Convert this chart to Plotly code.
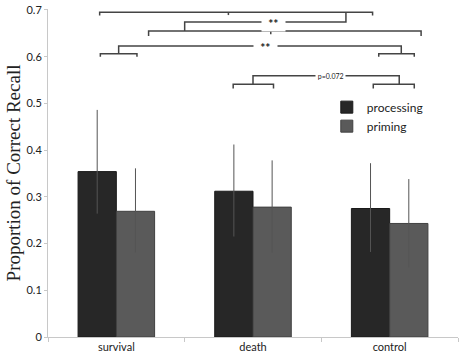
import plotly.graph_objects as go

categories = ["survival", "death", "control"]
processing = [0.354, 0.312, 0.275]
priming = [0.269, 0.278, 0.243]
processing_err_plus = [0.132, 0.100, 0.097]
processing_err_minus = [0.090, 0.097, 0.093]
priming_err_plus = [0.092, 0.100, 0.095]
priming_err_minus = [0.088, 0.098, 0.094]
y_ticks = [0, 0.1, 0.2, 0.3, 0.4, 0.5, 0.6, 0.7]
y_ticklabels = ["0", "0.1", "0.2", "0.3", "0.4", "0.5", "0.6", "0.7"]

# significance brackets (category-index x, data y)
bracket_lines = [
    [(-0.122, 0.688), (-0.122, 0.695), (1.875, 0.695), (1.875, 0.688)],
    [(0.82, 0.695), (0.82, 0.689)],
    [(1.68, 0.695), (1.68, 0.674), (0.5, 0.674), (0.5, 0.655)],
    [(0.236, 0.644), (0.236, 0.655), (2.23, 0.655), (2.23, 0.644)],
    [(1.13, 0.655), (1.13, 0.648)],
    [(0.017, 0.606), (0.017, 0.623), (2.085, 0.623), (2.085, 0.606)],
    [(-0.117, 0.600), (-0.117, 0.606), (0.151, 0.606), (0.151, 0.600)],
    [(1.92, 0.600), (1.92, 0.606), (2.18, 0.606), (2.18, 0.600)],
    [(1.0, 0.541), (1.0, 0.559), (2.07, 0.559), (2.07, 0.541)],
    [(0.855, 0.532), (0.855, 0.541), (1.15, 0.541), (1.15, 0.532)],
    [(1.88, 0.532), (1.88, 0.541), (2.18, 0.541), (2.18, 0.532)],
]
bracket_labels = [("  <b>**</b>  ", 1.15, 0.671, 12), ("  <b>**</b>  ", 1.09, 0.620, 12),
                  (" p=0.072 ", 1.57, 0.559, 7)]

fig = go.Figure()
fig.add_trace(go.Bar(
    x=categories, y=processing, name="processing",
    marker=dict(color="#272727", line=dict(color="#1a1a1a", width=1)),
    error_y=dict(type="data", symmetric=False, array=processing_err_plus,
                 arrayminus=processing_err_minus, color="#555555", thickness=1, width=0),
))
fig.add_trace(go.Bar(
    x=categories, y=priming, name="priming",
    marker=dict(color="#5a5a5a", line=dict(color="#404040", width=1)),
    error_y=dict(type="data", symmetric=False, array=priming_err_plus,
                 arrayminus=priming_err_minus, color="#555555", thickness=1, width=0),
))

shapes = []
for pl in bracket_lines:
    path = "M " + " L ".join(f"{x},{y}" for x, y in pl)
    shapes.append(dict(type="path", xref="x2", yref="y", path=path,
                       line=dict(color="#444444", width=1.5), layer="above"))

annotations = []
for txt, x, y, size in bracket_labels:
    annotations.append(dict(text=txt.replace(" ", "&nbsp;"), x=x, y=y, xref="x2", yref="y",
                            showarrow=False,
                            font=dict(family="Lato, sans-serif", size=size, color="#222222"),
                            bgcolor="white", borderpad=0))

fig.update_layout(
    width=461, height=358,
    margin=dict(l=48, r=3, t=6, b=21),
    paper_bgcolor="white", plot_bgcolor="white",
    barmode="group", bargap=0.44, bargroupgap=0,
    font=dict(family="Lato, sans-serif", size=11, color="#222222"),
    showlegend=True,
    legend=dict(x=0.68, y=0.745, xanchor="left", yanchor="top",
                font=dict(family="Lato, sans-serif", size=12, color="#222222"),
                bgcolor="rgba(0,0,0,0)", itemwidth=30, tracegroupgap=0),
    xaxis=dict(type="category", showline=True, linecolor="#c8c8c8", linewidth=1,
               ticks="outside", ticklen=4, tickcolor="#c8c8c8", tickson="boundaries",
               showgrid=False, zeroline=False, tickfont=dict(size=11, color="#222222")),
    xaxis2=dict(overlaying="x", range=[-0.5, 2.5], visible=False),
    yaxis=dict(range=[0, 0.702], tickmode="array", tickvals=y_ticks, ticktext=y_ticklabels,
               ticklabeloverflow="allow",
               showline=True, linecolor="#c8c8c8", linewidth=1,
               ticks="outside", ticklen=3, tickcolor="#c8c8c8", showgrid=False, zeroline=False,
               tickfont=dict(size=11, color="#222222"),
               title=dict(text="Proportion of Correct Recall",
                          font=dict(family="Liberation Serif, Times New Roman, serif", size=19, color="#222222"),
                          standoff=0)),
    shapes=shapes, annotations=annotations,
)
fig.write_html("out.html", config={"displayModeBar": False},
               post_script="document.body.style.margin='0';")
